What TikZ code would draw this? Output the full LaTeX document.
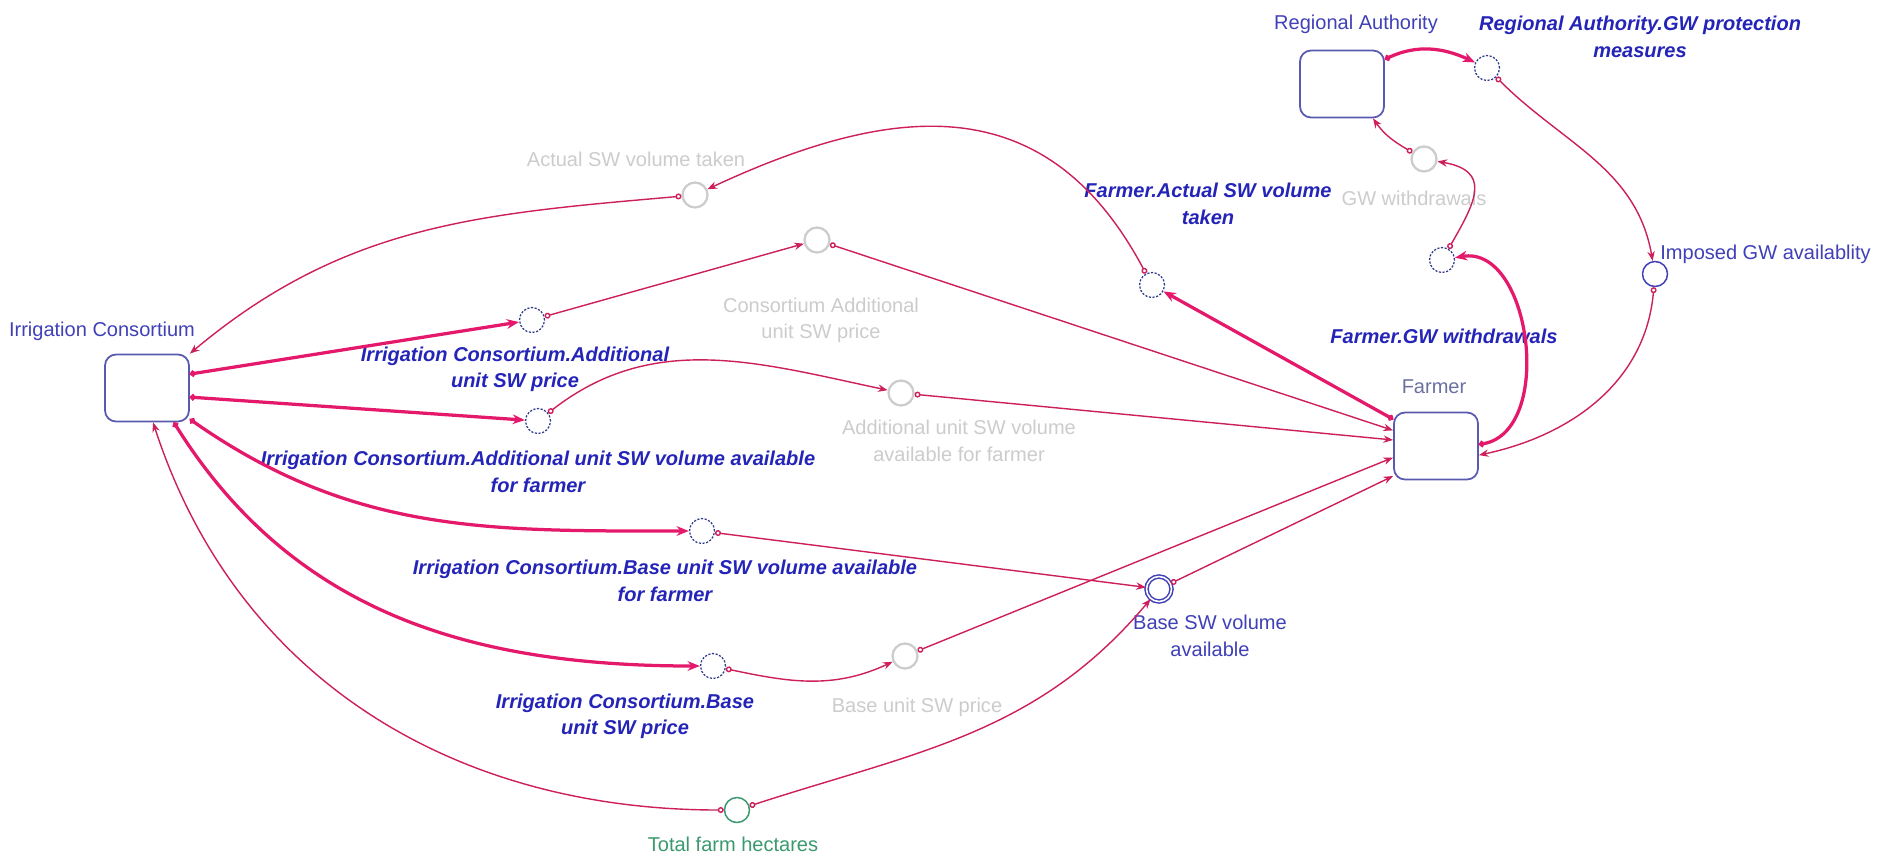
\documentclass[tikz,border=0pt]{standalone}
\usepackage{fontspec}
\setmainfont{Liberation Sans}
\usetikzlibrary{arrows.meta}

\begin{document}
\begin{tikzpicture}[x=0.02cm,y=-0.02cm,
 every node/.style={inner sep=0pt,align=center,font=\fontsize{11.4}{15}\selectfont},
 agent/.style={draw=5858B0,line width=0.35mm,rounded corners=0.22cm,minimum width=1.68cm,minimum height=1.34cm,fill=white},
 aux/.style={circle,draw=2E3A8C,line width=0.25mm,dash pattern=on 1.2pt off 0.9pt,minimum size=0.5cm},
 shadow/.style={circle,draw=C8C8C8,line width=0.45mm,minimum size=0.5cm},
 conv/.style={circle,draw=4040B8,line width=0.3mm,minimum size=0.5cm},
 lbl/.style={text=4040B8},
 blbl/.style={text=2323B8,font=\fontsize{11.4}{15}\selectfont\bfseries\itshape},
 glbl/.style={text=C8C8C8},
 lnk/.style={draw=CC1F5C,line width=0.28mm,{Circle[open,length=3.4pt]}-{Stealth[length=5.5pt,width=4.2pt]}},
 thk/.style={draw=E61A6B,line width=0.65mm,{Circle[open,length=3.4pt]}-{Stealth[length=7pt,width=5.5pt]}}]
\definecolor{CC1F5C}{rgb}{0.80,0.12,0.36}
\definecolor{E61A6B}{rgb}{0.90,0.10,0.42}
\definecolor{5858B0}{rgb}{0.35,0.35,0.69}
\definecolor{2323B8}{rgb}{0.14,0.14,0.72}
\definecolor{4040B8}{rgb}{0.25,0.25,0.72}
\definecolor{C8C8C8}{rgb}{0.80,0.80,0.80}
\definecolor{2E3A8C}{rgb}{0.18,0.23,0.55}
\definecolor{3A9A70}{rgb}{0.23,0.60,0.44}
\definecolor{6A70A0}{rgb}{0.42,0.44,0.63}
\useasboundingbox[fill=white] (0,0) rectangle (1879,856);
\node[agent] (ic) at (147,388) {};
\node[agent] (farmer) at (1436,446) {};
\node[agent] (ra) at (1342,84) {};
\node[lbl] (icl) at (102,331) {Irrigation Consortium};
\node[text=6A70A0] (farmerl) at (1434,387) {Farmer};
\node[lbl] (ral) at (1356,24) {Regional Authority};
\node[aux] (gwprot) at (1487,68) {};
\node[blbl] (gwprotl) at (1640,37) {Regional Authority.GW protection\\measures};
\node[shadow] (gwwd) at (1424,159) {};
\node[glbl] (gwwdl) at (1414,198) {GW withdrawals};
\node[aux] (fgw) at (1442,260) {};
\node[blbl] (fgwl) at (1444,336) {Farmer.GW withdrawals};
\node[conv] (imposed) at (1655,274) {};
\node[lbl,anchor=west] (imposedl) at (1660,254) {Imposed GW availablity};
\node[aux] (fact) at (1152,285) {};
\node[blbl] (factl) at (1208,204) {Farmer.Actual SW volume\\taken};
\node[shadow] (act) at (695,195) {};
\node[glbl] (actl) at (636,159) {Actual SW volume taken};
\node[aux] (icaddp) at (532,320) {};
\node[blbl] (icaddpl) at (515,369) {Irrigation Consortium.Additional\\unit SW price};
\node[shadow] (consaddp) at (817,240) {};
\node[glbl] (consaddpl) at (821,320) {Consortium Additional\\unit SW price};
\node[aux] (icaddv) at (538,421) {};
\node[blbl] (icaddvl) at (538,472) {Irrigation Consortium.Additional unit SW volume available\\for farmer};
\node[shadow] (addv) at (901,393) {};
\node[glbl] (addvl) at (959,441) {Additional unit SW volume\\available for farmer};
\node[aux] (icbasev) at (702,531) {};
\node[blbl] (icbasevl) at (665,581) {Irrigation Consortium.Base unit SW volume available\\for farmer};
\node[conv,double=white,double distance=0.9pt] (basev) at (1159,589) {};
\node[lbl] (basevl) at (1210,636) {Base SW volume\\available};
\node[aux] (icbasep) at (713,666) {};
\node[blbl] (icbasepl) at (625,716) {Irrigation Consortium.Base\\unit SW price};
\node[shadow] (baseunitp) at (905,656) {};
\node[glbl] (baseunitpl) at (917,707) {Base unit SW price};
\node[conv,draw=3A9A70] (ha) at (737,810) {};
\node[text=3A9A70] (hal) at (733,844) {Total farm hectares};
\draw[thk] (ic.18) -- (icaddp);
\draw[thk] (ic.-12) -- (icaddv);
\draw[thk] (ic.-36) to[out=-35,in=180] (icbasev);
\draw[thk] (ic.-52) to[out=-58,in=180] (icbasep);
\draw[lnk] (ha) to[out=180,in=-72] (ic.-80);
\draw[lnk] (ha) to[out=18,in=-130] (basev);
\draw[lnk] (act) to[out=185,in=40] (ic.north east);
\draw[lnk] (fact) to[out=118,in=25,looseness=1.2] (act);
\draw[thk] (farmer.148) -- (fact);
\draw[lnk] (icaddp) -- (consaddp);
\draw[lnk] (consaddp) -- (farmer.160);
\draw[lnk] (icaddv) to[out=38,in=168] (addv);
\draw[lnk] (addv) -- (farmer.172);
\draw[lnk] (icbasev) -- (basev);
\draw[lnk] (baseunitp) -- (farmer.195);
\draw[lnk] (icbasep) to[out=-12,in=205] (baseunitp);
\draw[lnk] (basev) -- (farmer.215);
\draw[thk] (farmer.2) to[out=10,in=10,looseness=1.05] (fgw);
\draw[lnk] (fgw) to[out=60,in=-10,looseness=1.6] (gwwd);
\draw[lnk] (gwwd) to[out=150,in=-55] (ra.-48);
\draw[thk] (ra.30) to[out=25,in=155] (gwprot);
\draw[lnk] (gwprot) to[out=-45,in=100] (imposed);
\draw[lnk] (imposed) to[out=-95,in=12] (farmer.-12);
\end{tikzpicture}
\end{document}
